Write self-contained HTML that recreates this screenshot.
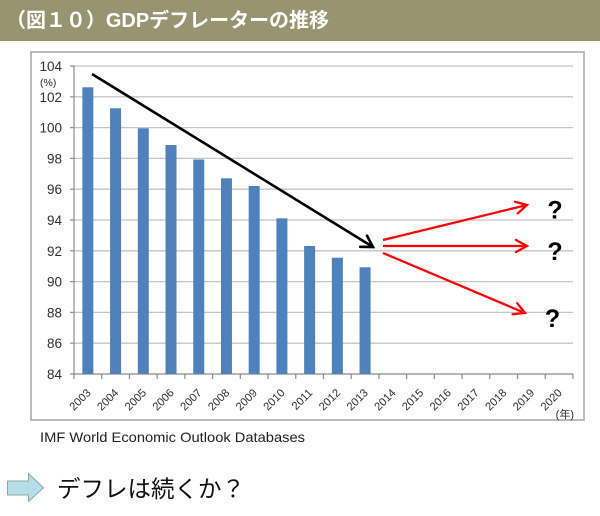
<!DOCTYPE html>
<html><head><meta charset="utf-8">
<style>
html,body{margin:0;padding:0;background:#fff;}
svg{display:block;}
</style></head>
<body>
<svg width="600" height="516" viewBox="0 0 600 516" xmlns="http://www.w3.org/2000/svg">
<defs>
<marker id="hr" markerUnits="userSpaceOnUse" markerWidth="24" markerHeight="24" viewBox="-14 -12 24 24" refX="0" refY="0" orient="auto">
<path d="M-11,-6 L0,0 L-11,6" fill="none" stroke="#ff0000" stroke-width="2.3" stroke-linecap="round" stroke-linejoin="miter"/>
</marker>
<marker id="hb" markerUnits="userSpaceOnUse" markerWidth="24" markerHeight="24" viewBox="-14 -12 24 24" refX="0" refY="0" orient="auto">
<path d="M-11,-6.5 L0,0 L-11,6.5" fill="none" stroke="#000" stroke-width="2.6" stroke-linecap="round"/>
</marker>
</defs>
<!-- title bar -->
<rect x="0" y="0" width="600" height="41" fill="#97946f"/>
<text x="6" y="27" font-family="'Liberation Sans','Noto Sans CJK JP',sans-serif" font-weight="bold" font-size="20" fill="#fff" textLength="323" lengthAdjust="spacingAndGlyphs">（図１０）GDPデフレーターの推移</text>

<!-- chart frame -->
<rect x="31" y="52" width="553" height="368" fill="#fff" stroke="#a6a6a6" stroke-width="1.5"/>

<!-- gridlines -->
<g stroke="#c4c4c4" stroke-width="1.3" fill="none">
<path d="M74 66H573M74 96.8H573M74 127.6H573M74 158.4H573M74 189.2H573M74 220H573M74 250.8H573M74 281.6H573M74 312.4H573M74 343.2H573"/>
</g>
<!-- axes -->
<g stroke="#8c8c8c" stroke-width="1.2" fill="none">
<path d="M74 66V374M70 66H74M70 96.8H74M70 127.6H74M70 158.4H74M70 189.2H74M70 220H74M70 250.8H74M70 281.6H74M70 312.4H74M70 343.2H74M70 374H74"/>
<path d="M74 374H573"/>
<path d="M74 374v5M101.72 374v5M129.44 374v5M157.16 374v5M184.88 374v5M212.6 374v5M240.32 374v5M268.04 374v5M295.76 374v5M323.48 374v5M351.2 374v5M378.92 374v5M406.64 374v5M434.36 374v5M462.08 374v5M489.8 374v5M517.52 374v5M545.24 374v5M572.96 374v5"/>
</g>

<!-- bars -->
<g fill="#4f81bd">
<rect x="82.36" y="87.3" width="11" height="286.7"/>
<rect x="110.08" y="108.3" width="11" height="265.7"/>
<rect x="137.8" y="128.3" width="11" height="245.7"/>
<rect x="165.52" y="145" width="11" height="229"/>
<rect x="193.24" y="159.5" width="11" height="214.5"/>
<rect x="220.96" y="178.3" width="11" height="195.7"/>
<rect x="248.68" y="186" width="11" height="188"/>
<rect x="276.4" y="218.3" width="11" height="155.7"/>
<rect x="304.12" y="246" width="11" height="128"/>
<rect x="331.84" y="257.7" width="11" height="116.3"/>
<rect x="359.56" y="267.3" width="11" height="106.7"/>
</g>

<!-- y labels -->
<g font-family="'Liberation Sans',sans-serif" font-size="13.5" fill="#303030" text-anchor="end">
<text x="62" y="71">104</text>
<text x="62" y="101.8">102</text>
<text x="62" y="132.6">100</text>
<text x="62" y="163.4">98</text>
<text x="62" y="194.2">96</text>
<text x="62" y="225">94</text>
<text x="62" y="255.8">92</text>
<text x="62" y="286.6">90</text>
<text x="62" y="317.4">88</text>
<text x="62" y="348.2">86</text>
<text x="62" y="379">84</text>
</g>
<text x="40" y="86" font-family="'Liberation Sans','Noto Sans CJK JP',sans-serif" font-size="10.5" fill="#303030">(%)</text>

<!-- x labels -->
<g font-family="'Liberation Sans',sans-serif" font-size="11.2" fill="#303030" text-anchor="end">
<text transform="translate(91.5 393.5) rotate(-45)">2003</text>
<text transform="translate(119.2 393.5) rotate(-45)">2004</text>
<text transform="translate(146.9 393.5) rotate(-45)">2005</text>
<text transform="translate(174.6 393.5) rotate(-45)">2006</text>
<text transform="translate(202.4 393.5) rotate(-45)">2007</text>
<text transform="translate(230.1 393.5) rotate(-45)">2008</text>
<text transform="translate(257.8 393.5) rotate(-45)">2009</text>
<text transform="translate(285.5 393.5) rotate(-45)">2010</text>
<text transform="translate(313.2 393.5) rotate(-45)">2011</text>
<text transform="translate(341 393.5) rotate(-45)">2012</text>
<text transform="translate(368.7 393.5) rotate(-45)">2013</text>
<text transform="translate(396.4 393.5) rotate(-45)">2014</text>
<text transform="translate(424.1 393.5) rotate(-45)">2015</text>
<text transform="translate(451.8 393.5) rotate(-45)">2016</text>
<text transform="translate(479.6 393.5) rotate(-45)">2017</text>
<text transform="translate(507.3 393.5) rotate(-45)">2018</text>
<text transform="translate(535 393.5) rotate(-45)">2019</text>
<text transform="translate(562.7 393.5) rotate(-45)">2020</text>
</g>
<text x="574" y="418" text-anchor="end" font-family="'Liberation Sans','Noto Sans CJK JP',sans-serif" font-size="11" fill="#303030">(年)</text>

<!-- arrows -->
<line x1="92" y1="74" x2="373" y2="247" stroke="#000" stroke-width="2.6" marker-end="url(#hb)"/>
<line x1="383" y1="240" x2="527" y2="205" stroke="#ff0000" stroke-width="2.3" marker-end="url(#hr)"/>
<line x1="383" y1="246" x2="527" y2="246" stroke="#ff0000" stroke-width="2.3" marker-end="url(#hr)"/>
<line x1="383" y1="253" x2="525" y2="313" stroke="#ff0000" stroke-width="2.3" marker-end="url(#hr)"/>

<!-- question marks -->
<g font-family="'Liberation Sans',sans-serif" font-weight="bold" font-size="25" fill="#000" text-anchor="middle">
<text x="555" y="218.5">?</text>
<text x="555" y="260">?</text>
<text x="552.5" y="327">?</text>
</g>

<!-- source -->
<text x="40" y="442" font-family="'Liberation Sans',sans-serif" font-size="14" fill="#222" textLength="265" lengthAdjust="spacingAndGlyphs">IMF World Economic Outlook Databases</text>

<!-- bottom block arrow -->
<polygon points="7.5,481 28.5,481 28.5,473.5 43.5,487.8 28.5,501.5 28.5,495 7.5,495" fill="#b7dde6" stroke="#8aa8ae" stroke-width="1"/>
<text x="57" y="497" font-family="'Liberation Sans','Noto Sans CJK JP',sans-serif" font-size="23.5" fill="#111">デフレは続くか？</text>
</svg>
</body></html>
